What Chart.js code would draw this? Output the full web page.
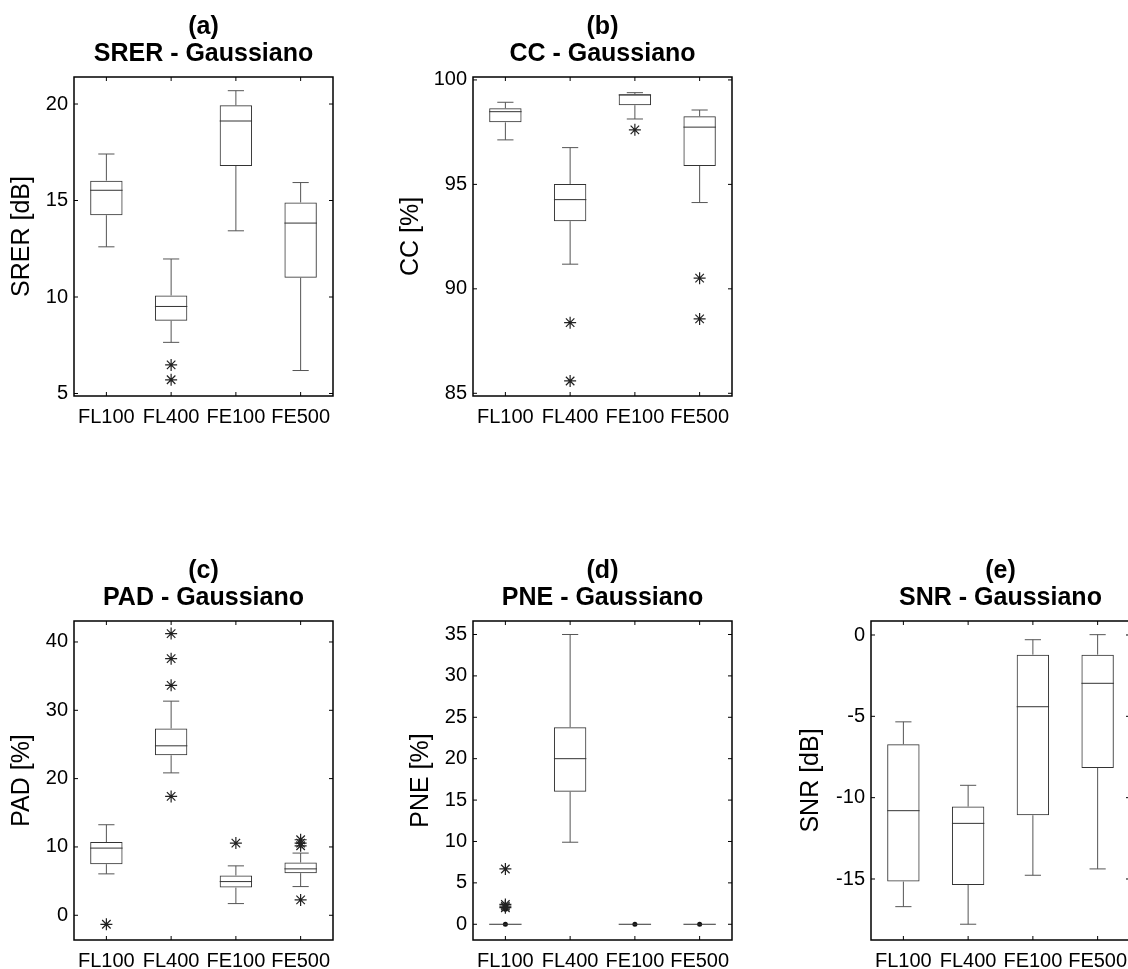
<!DOCTYPE html>
<html>
<head>
<meta charset="utf-8">
<script src="https://cdn.jsdelivr.net/npm/chart.js@4.4.1/dist/chart.umd.min.js"></script>
<style>
  html, body { margin: 0; padding: 0; background: #fff; }
  body { width: 1128px; height: 969px; overflow: hidden; position: relative; }
  canvas { position: absolute; }
</style>
</head>
<body>
<canvas id="srer" width="341" height="436" style="left:0px;top:0px"></canvas>
<canvas id="cc" width="341" height="436" style="left:399px;top:0px"></canvas>
<canvas id="pad" width="341" height="436" style="left:0px;top:544px"></canvas>
<canvas id="pne" width="341" height="436" style="left:399px;top:544px"></canvas>
<canvas id="snr" width="341" height="436" style="left:797px;top:544px"></canvas>
<script>
const groups = ["FL100", "FL400", "FE100", "FE500"];

// per group: [lower whisker, Q1, median, Q3, upper whisker]
const srerStats = [
  [12.6, 14.24, 15.53, 16.03, 17.41],
  [7.65, 8.77, 9.51, 10.08, 11.97],
  [13.43, 16.79, 19.12, 19.93, 20.69],
  [6.19, 11.0, 13.83, 14.9, 15.93],
];
const srerOutliers = [[], [6.48, 5.71], [], []];
const srerTicks = [5, 10, 15, 20];
const srerRange = [4.87, 21.4];

const ccStats = [
  [97.13, 97.97, 98.48, 98.64, 98.93],
  [91.18, 93.24, 94.27, 95.02, 96.76],
  [98.13, 98.79, 99.28, 99.32, 99.39],
  [94.13, 95.88, 97.74, 98.26, 98.56],
];
const ccOutliers = [[], [88.38, 85.59], [97.61], [90.51, 88.56]];
const ccTicks = [85, 90, 95, 100];
const ccRange = [84.87, 100.14];

const padStats = [
  [6.06, 7.48, 9.83, 10.71, 13.25],
  [20.84, 23.42, 24.8, 27.34, 31.34],
  [1.71, 4.05, 4.93, 5.82, 7.23],
  [4.2, 6.16, 6.79, 7.72, 9.1],
];
const padOutliers = [[-1.32], [41.23, 37.56, 33.65, 17.4], [10.56], [11.05, 10.56, 10.17, 2.25]];
const padTicks = [0, 10, 20, 30, 40];
const padRange = [-3.62, 43.07];

const pneStats = [
  [0, 0, 0, 0, 0],
  [9.91, 16.0, 20.0, 23.8, 35.0],
  [0, 0, 0, 0, 0],
  [0, 0, 0, 0, 0],
];
const pneOutliers = [[6.68, 2.4, 2.2, 2.0], [], [], []];
const pneZeros = [[0, 1.8], [], [0], [0]];
const pneTicks = [0, 5, 10, 15, 20, 25, 30, 35];
const pneRange = [-1.9, 36.63];

const snrStats = [
  [-16.7, -15.16, -10.8, -6.72, -5.34],
  [-17.78, -15.37, -11.58, -10.55, -9.24],
  [-14.77, -11.08, -4.41, -1.21, -0.29],
  [-14.38, -8.17, -2.97, -1.21, 0.02],
];
const snrOutliers = [[], [], [], []];
const snrTicks = [-15, -10, -5, 0];
const snrRange = [-18.75, 0.86];

Chart.defaults.font.family = "'Liberation Sans', Arial, sans-serif";
Chart.defaults.color = "#000";

// whiskers, caps and median lines, drawn from each chart's stats
const boxLines = {
  id: "boxLines",
  afterDatasetsDraw(chart, args, opts) {
    const { ctx, scales: { x, y } } = chart;
    const step = x.getPixelForValue(1) - x.getPixelForValue(0);
    const boxHalf = step * 0.25;
    const capHalf = step * 0.125;
    const seg = (x1, y1, x2, y2) => {
      ctx.beginPath();
      ctx.moveTo(x1, y1);
      ctx.lineTo(x2, y2);
      ctx.stroke();
    };
    ctx.save();
    ctx.lineWidth = 1;
    opts.stats.forEach((s, i) => {
      const px = x.getPixelForValue(i);
      const [lo, q1, med, q3, hi] = s.map(v => y.getPixelForValue(v));
      ctx.strokeStyle = "#555";
      if (lo !== q1) {
        seg(px, q1, px, lo);
        seg(px - capHalf, lo, px + capHalf, lo);
      }
      if (hi !== q3) {
        seg(px, q3, px, hi);
        seg(px - capHalf, hi, px + capHalf, hi);
      }
      ctx.strokeStyle = "#333";
      seg(px - boxHalf, med, px + boxHalf, med);
    });
    ctx.restore();
  }
};

// closed axes box with inward tick marks on all four sides
const axesFrame = {
  id: "axesFrame",
  afterDraw(chart) {
    const { ctx, chartArea: a, scales: { x, y } } = chart;
    const len = 4;
    ctx.save();
    ctx.strokeStyle = "#000";
    ctx.lineWidth = 1;
    ctx.beginPath();
    y.ticks.forEach(t => {
      const py = y.getPixelForValue(t.value);
      ctx.moveTo(a.left, py); ctx.lineTo(a.left + len, py);
      ctx.moveTo(a.right, py); ctx.lineTo(a.right - len, py);
    });
    groups.forEach((g, i) => {
      const px = x.getPixelForValue(i);
      ctx.moveTo(px, a.top); ctx.lineTo(px, a.top + len);
      ctx.moveTo(px, a.bottom); ctx.lineTo(px, a.bottom - len);
    });
    ctx.stroke();
    ctx.lineWidth = 1.5;
    ctx.strokeRect(a.left, a.top, a.right - a.left, a.bottom - a.top);
    ctx.restore();
  }
};

function pointsOf(lists) {
  return lists.flatMap((vals, i) => vals.map(v => ({ x: groups[i], y: v })));
}

function boxChart(id, title, yLabel, stats, outliers, ticks, range, labelX, zeros) {
  const datasets = [
    {
      type: "bar",
      data: stats.map(s => [s[1], s[3]]),
      backgroundColor: "rgba(0,0,0,0)",
      borderColor: "#333",
      borderWidth: 1,
      borderSkipped: false,
      barPercentage: 0.5,
      categoryPercentage: 1,
    },
    {
      type: "line",
      data: pointsOf(outliers),
      showLine: false,
      pointStyle: "star",
      pointRadius: 6,
      pointBorderColor: "#222",
      pointBorderWidth: 1.2,
    },
  ];
  if (zeros) {
    datasets.push({
      type: "line",
      data: pointsOf(zeros),
      showLine: false,
      pointStyle: "circle",
      pointRadius: 2.5,
      pointBackgroundColor: "#111",
      pointBorderColor: "#111",
      pointBorderWidth: 0,
    });
  }

  return new Chart(document.getElementById(id), {
    type: "bar",
    data: { labels: groups, datasets },
    plugins: [boxLines, axesFrame],
    options: {
      responsive: false,
      devicePixelRatio: 1,
      animation: false,
      layout: { padding: { left: 0, right: 8, top: 0, bottom: 0 } },
      plugins: {
        legend: { display: false },
        tooltip: { enabled: false },
        title: {
          display: true,
          text: title,
          fullSize: false,
          color: "#000",
          font: { size: 25, weight: "bold", lineHeight: 1.1 },
          padding: { top: 13, bottom: 9 },
        },
        boxLines: { stats },
      },
      scales: {
        x: {
          type: "category",
          offset: true,
          grid: { display: false, drawTicks: false },
          border: { display: false },
          ticks: { font: { size: 20 }, color: "#000", padding: 9, maxRotation: 0, autoSkip: false },
          afterFit: s => { s.height = 40; },
        },
        y: {
          type: "linear",
          min: range[0],
          max: range[1],
          grid: { display: false, drawTicks: false },
          border: { display: false },
          afterBuildTicks: s => { s.ticks = ticks.map(v => ({ value: v })); },
          ticks: { font: { size: 20 }, color: "#000", padding: 6 },
          title: {
            display: true,
            text: yLabel,
            color: "#000",
            font: { size: 25, lineHeight: 1 },
            padding: { top: labelX - 12.5, bottom: 0 },
          },
          afterFit: s => { s.width = 74; },
        },
      },
    },
  });
}

boxChart("srer", ["(a)", "SRER - Gaussiano"], "SRER [dB]", srerStats, srerOutliers, srerTicks, srerRange, 22);
boxChart("cc", ["(b)", "CC - Gaussiano"], "CC [%]", ccStats, ccOutliers, ccTicks, ccRange, 12.5);
boxChart("pad", ["(c)", "PAD - Gaussiano"], "PAD [%]", padStats, padOutliers, padTicks, padRange, 22);
boxChart("pne", ["(d)", "PNE - Gaussiano"], "PNE [%]", pneStats, pneOutliers, pneTicks, pneRange, 22, pneZeros);
boxChart("snr", ["(e)", "SNR - Gaussiano"], "SNR [dB]", snrStats, snrOutliers, snrTicks, snrRange, 14);
</script>
</body>
</html>
